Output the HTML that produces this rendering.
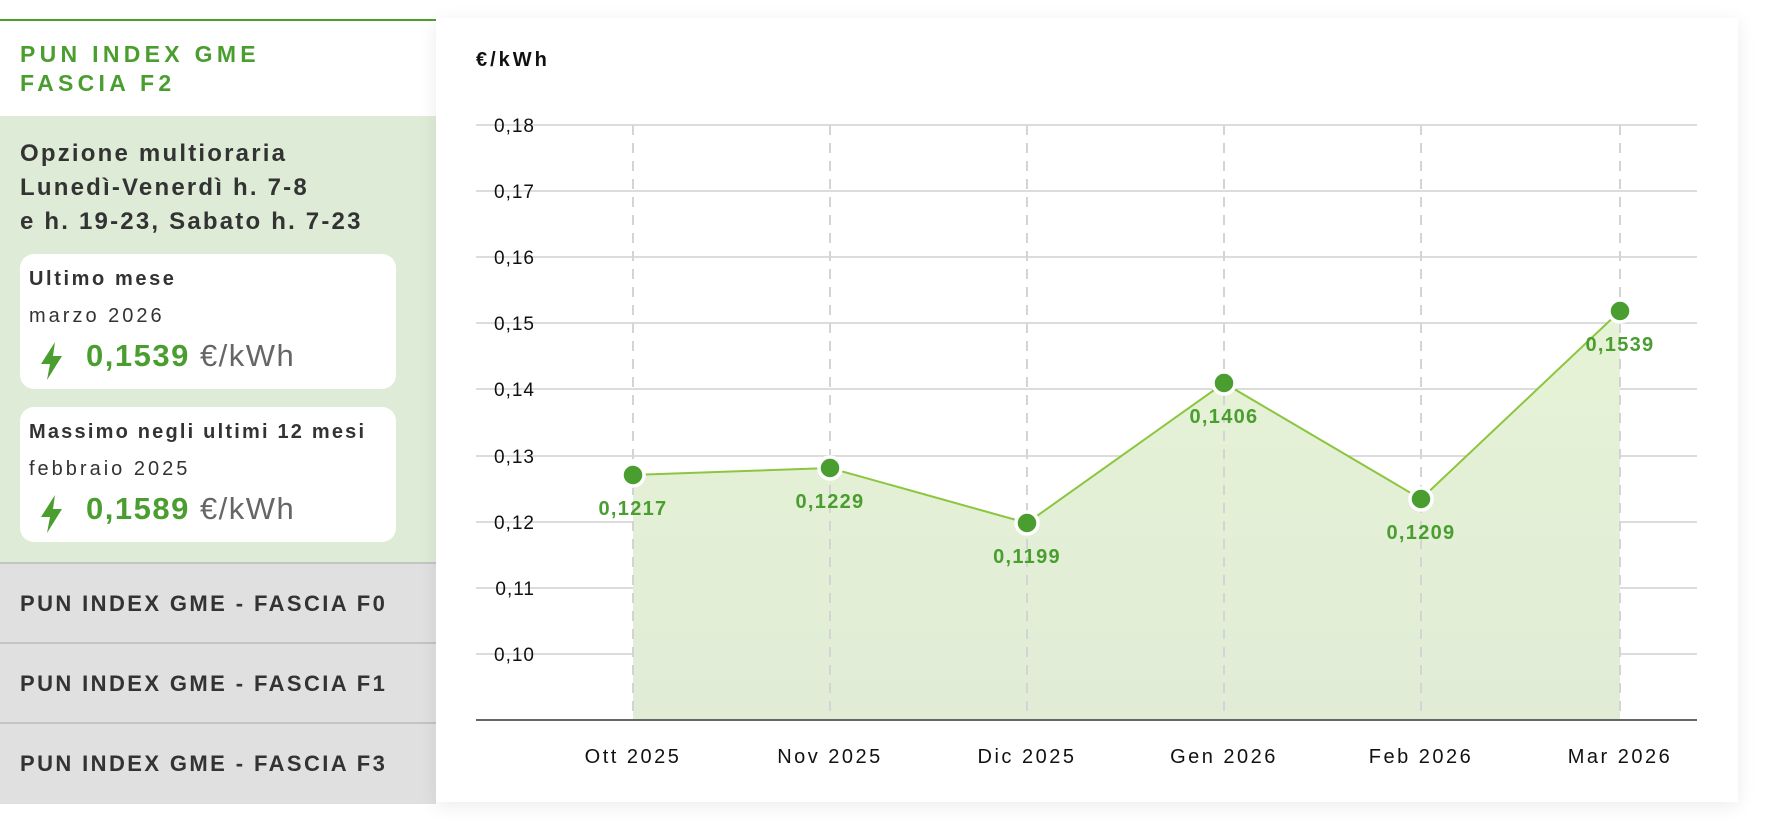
<!DOCTYPE html>
<html><head><meta charset="utf-8"><style>
body{margin:0;width:1766px;height:838px;background:#fff;position:relative;overflow:hidden;font-family:"Liberation Sans",sans-serif}
.a{position:absolute;white-space:nowrap}
.card{position:absolute;left:20px;width:376px;background:#fff;border-radius:14px}
.gray{position:absolute;left:0;width:436px;background:#e0e0e0;border-top:2px solid #c4c4c4}
.gray span{position:absolute;left:20px;top:27px;font-size:22px;font-weight:bold;color:#333;letter-spacing:2.4px}
</style></head><body>
<div class="a" style="left:0;top:19px;width:436px;height:2px;background:#4a9e2f"></div>
<div class="a" style="left:20px;top:40px;font-size:23px;line-height:29px;font-weight:bold;color:#4a9e2f;letter-spacing:4.3px">PUN INDEX GME<br>FASCIA F2</div>
<div class="a" style="left:0;top:116px;width:436px;height:447px;background:#deecd7"></div>
<div class="a" style="left:20px;top:137px;font-size:24px;line-height:34px;font-weight:bold;color:#333;letter-spacing:2.2px">Opzione multioraria<br>Lunedì-Venerdì h. 7-8<br>e h. 19-23, Sabato h. 7-23</div>
<div class="card" style="top:254px;height:135px">
 <div class="a" style="left:9px;top:14px;font-size:20px;font-weight:bold;color:#333;letter-spacing:2.6px">Ultimo mese</div>
 <div class="a" style="left:9px;top:51px;font-size:20px;color:#333;letter-spacing:3px">marzo 2026</div>
 <svg class="a" style="left:21px;top:88px" width="22" height="38" viewBox="0 0 22 38"><path d="M14 0 L0 22 H9 L6 38 L21 14 H12 Z" fill="#4a9e2f"/></svg>
 <div class="a" style="left:66px;top:84px;font-size:31px;color:#666;letter-spacing:1.5px"><b style="color:#4a9e2f">0,1539</b> €/kWh</div>
</div>
<div class="card" style="top:407px;height:135px">
 <div class="a" style="left:9px;top:14px;font-size:20px;font-weight:bold;color:#333;letter-spacing:2.2px">Massimo negli ultimi 12 mesi</div>
 <div class="a" style="left:9px;top:51px;font-size:20px;color:#333;letter-spacing:3px">febbraio 2025</div>
 <svg class="a" style="left:21px;top:88px" width="22" height="38" viewBox="0 0 22 38"><path d="M14 0 L0 22 H9 L6 38 L21 14 H12 Z" fill="#4a9e2f"/></svg>
 <div class="a" style="left:66px;top:84px;font-size:31px;color:#666;letter-spacing:1.5px"><b style="color:#4a9e2f">0,1589</b> €/kWh</div>
</div>
<div class="gray" style="top:562px;height:78px"><span>PUN INDEX GME - FASCIA F0</span></div>
<div class="gray" style="top:642px;height:78px"><span>PUN INDEX GME - FASCIA F1</span></div>
<div class="gray" style="top:722px;height:80px"><span>PUN INDEX GME - FASCIA F3</span></div>
<div class="a" style="left:436px;top:18px;width:1302px;height:784px;background:#fff;box-shadow:0 4px 18px rgba(0,0,0,.08)"></div>
<svg class="a" style="left:0;top:0" width="1766" height="838" font-family="Liberation Sans, sans-serif">
<text x="476" y="66" font-size="20" font-weight="bold" fill="#111" letter-spacing="3">€/kWh</text>
<g stroke="#dcdcdc" stroke-width="2">
<line x1="476" x2="1697" y1="125" y2="125"/><line x1="476" x2="1697" y1="191" y2="191"/><line x1="476" x2="1697" y1="257" y2="257"/><line x1="476" x2="1697" y1="323" y2="323"/><line x1="476" x2="1697" y1="389" y2="389"/><line x1="476" x2="1697" y1="456" y2="456"/><line x1="476" x2="1697" y1="522" y2="522"/><line x1="476" x2="1697" y1="588" y2="588"/><line x1="476" x2="1697" y1="654" y2="654"/>
</g>
<g font-size="19" fill="#111" text-anchor="end" letter-spacing="1">
<text x="535" y="132">0,18</text><text x="535" y="198">0,17</text><text x="535" y="264">0,16</text><text x="535" y="330">0,15</text><text x="535" y="396">0,14</text><text x="535" y="463">0,13</text><text x="535" y="529">0,12</text><text x="535" y="595">0,11</text><text x="535" y="661">0,10</text>
</g>
<defs><linearGradient id="g" x1="0" y1="0" x2="0" y2="1"><stop offset="0" stop-color="#e6f3d6"/><stop offset="1" stop-color="#e0ecd6"/></linearGradient></defs>
<polygon points="633,475 830,468 1027,523 1224,383 1421,499 1620,311 1620,720 633,720" fill="url(#g)"/>
<g stroke="#d4d4d4" stroke-width="2" stroke-dasharray="10,8">
<line x1="633" x2="633" y1="125" y2="720"/><line x1="830" x2="830" y1="125" y2="720"/><line x1="1027" x2="1027" y1="125" y2="720"/><line x1="1224" x2="1224" y1="125" y2="720"/><line x1="1421" x2="1421" y1="125" y2="720"/><line x1="1620" x2="1620" y1="125" y2="720"/>
</g>
<line x1="476" x2="1697" y1="720" y2="720" stroke="#666" stroke-width="2"/>
<polyline points="633,475 830,468 1027,523 1224,383 1421,499 1620,311" fill="none" stroke="#8cc63f" stroke-width="2"/>
<g fill="#4a9e2f" stroke="#fff" stroke-width="3.5">
<circle cx="633" cy="475" r="11"/><circle cx="830" cy="468" r="11"/><circle cx="1027" cy="523" r="11"/><circle cx="1224" cy="383" r="11"/><circle cx="1421" cy="499" r="11"/><circle cx="1620" cy="311" r="11"/>
</g>
<g font-size="20" font-weight="bold" fill="#4a9e2f" text-anchor="middle" letter-spacing="1.3">
<text x="633" y="515">0,1217</text><text x="830" y="508">0,1229</text><text x="1027" y="563">0,1199</text><text x="1224" y="423">0,1406</text><text x="1421" y="539">0,1209</text><text x="1620" y="351">0,1539</text>
</g>
<g font-size="20" fill="#111" text-anchor="middle" letter-spacing="2.5">
<text x="633" y="763">Ott 2025</text><text x="830" y="763">Nov 2025</text><text x="1027" y="763">Dic 2025</text><text x="1224" y="763">Gen 2026</text><text x="1421" y="763">Feb 2026</text><text x="1620" y="763">Mar 2026</text>
</g>
</svg>
</body></html>
